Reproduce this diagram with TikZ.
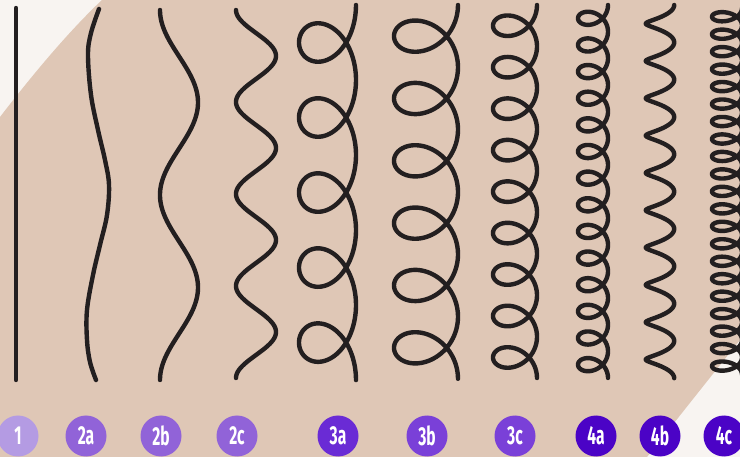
\documentclass[tikz,border=0pt]{standalone}
\usepackage{fontspec}
\newfontfamily\lblfont{Fira Sans}
\definecolor{bgwhite}{HTML}{F8F4F1}
\definecolor{beige}{HTML}{DFC7B6}
\definecolor{ink}{HTML}{231F20}
\definecolor{cOne}{HTML}{B49BE3}
\definecolor{cTwo}{HTML}{9163D8}
\definecolor{cThreeA}{HTML}{6A2BD5}
\definecolor{cThree}{HTML}{7A40D8}
\definecolor{cFour}{HTML}{4B03C6}
\tikzset{
  hair/.style={draw=ink, line width=4.4pt, line cap=round, line join=round},
  badge/.style={circle, minimum size=41pt, inner sep=0pt, text=white,
    font=\lblfont\bfseries\fontsize{26}{26}\selectfont},
}
\newcommand{\lbl}[1]{\scalebox{0.6}[1]{#1}}
\begin{document}
\begin{tikzpicture}[x=1pt, y=-1pt]
\useasboundingbox (0,0) rectangle (740,457);
% background
\fill[bgwhite] (0,0) rectangle (740,457);
\fill[beige] (0,117) .. controls (30,78) and (67,33) .. (102,0) -- (740,0) -- (740,340)
  .. controls (708,380) and (678,418) .. (647,457) -- (0,457) -- cycle;
% type 1
\coordinate (s1) at (16,8);
\coordinate (e1) at (16,380);
\draw[hair] (s1) -- (e1);
% type 2a
\draw[hair] plot[smooth, tension=0.6] coordinates {(99,9) (91,33) (88,55) (91,95) (98,130) (105,160) (109,185) (107,215) (100,245) (93,275) (87,310) (87,340) (90,362) (96,380)};
% type 2b
\draw[hair] plot[domain=10:380, samples=200, variable=\u] ({179-19*cos(1.9459*(\u-10))}, {\u});
% type 2c
\draw[hair] plot[domain=10:378, samples=250, variable=\u] ({256-20*cos(3.913*(\u-10))}, {\u});
% type 3a
\draw[hair] plot[domain=0:10*pi, samples=400, variable=\t] ({327.5+28.5*cos(\t r)}, {5+11.94*\t+36*sin(\t r)});
% type 3b
\draw[hair] plot[domain=0:12*pi, samples=450, variable=\t] ({426+32*cos(\t r)}, {5+9.92*\t+29.5*sin(\t r)});
% type 3c
\draw[hair] plot[domain=0:18*pi, samples=600, variable=\t] ({515+22*cos(\t r)}, {5+6.6*\t+19.5*sin(\t r)});
% type 4a
\draw[hair] plot[domain=0:28*pi, samples=800, variable=\t] ({593+15*cos(\t r)}, {5+4.24*\t+12.5*sin(\t r)});
% type 4b
\draw[hair] plot[domain=0:20*pi, samples=600, variable=\t] ({660+14.2*cos(\t r)}, {5+5.94*\t+3*sin(\t r)});
% type 4c
\draw[hair] plot[domain=0:42*pi, samples=1200, variable=\t] ({727+15*cos(\t r)}, {8+2.78*\t+8.5*sin(\t r)});
% labels
\node[badge, fill=cOne]    (l1)  at (18,436)  {\lbl{1}};
\node[badge, fill=cTwo]    (l2a) at (86,436)  {\lbl{2a}};
\node[badge, fill=cTwo]    (l2b) at (161,436) {\lbl{2b}};
\node[badge, fill=cTwo]    (l2c) at (237,436) {\lbl{2c}};
\node[badge, fill=cThreeA] (l3a) at (338,436) {\lbl{3a}};
\node[badge, fill=cThree]  (l3b) at (427,436) {\lbl{3b}};
\node[badge, fill=cThree]  (l3c) at (515,436) {\lbl{3c}};
\node[badge, fill=cFour]   (l4a) at (596,436) {\lbl{4a}};
\node[badge, fill=cFour]   (l4b) at (660,436) {\lbl{4b}};
\node[badge, fill=cFour]   (l4c) at (724,436) {\lbl{4c}};
\end{tikzpicture}
\end{document}
